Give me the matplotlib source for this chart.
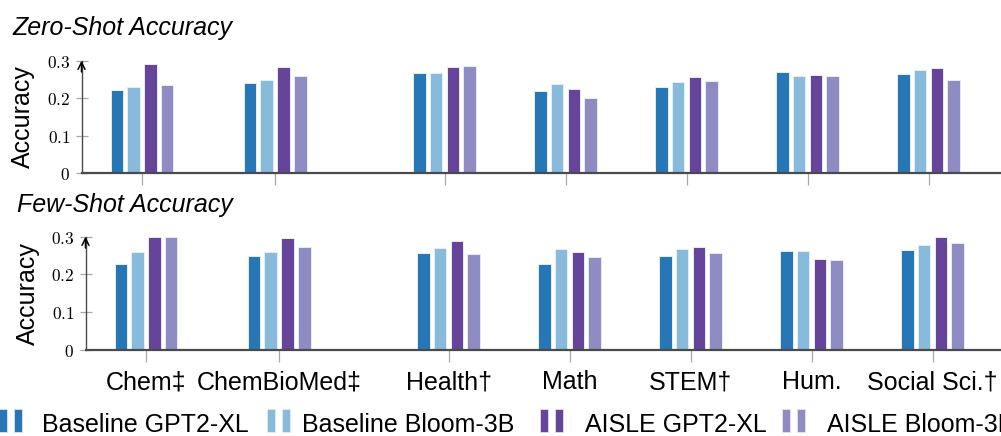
import matplotlib
matplotlib.use('Agg')
import matplotlib.pyplot as plt
from matplotlib.patches import Rectangle
import numpy as np

# ---------------- data ----------------
categories = ['Chem‡', 'ChemBioMed‡', 'Health†', 'Math', 'STEM†', 'Hum.', 'Social Sci.†']
series_names = ['Baseline GPT2-XL', 'Baseline Bloom-3B', 'AISLE GPT2-XL', 'AISLE Bloom-3B']

zero_baseline_gpt2 = [0.223, 0.241, 0.268, 0.218, 0.230, 0.271, 0.265]
zero_baseline_bloom = [0.230, 0.249, 0.267, 0.238, 0.244, 0.259, 0.275]
zero_aisle_gpt2 = [0.290, 0.282, 0.284, 0.225, 0.256, 0.263, 0.280]
zero_aisle_bloom = [0.234, 0.258, 0.287, 0.201, 0.247, 0.259, 0.249]

few_baseline_gpt2 = [0.228, 0.248, 0.257, 0.228, 0.248, 0.261, 0.266]
few_baseline_bloom = [0.259, 0.259, 0.269, 0.268, 0.267, 0.261, 0.277]
few_aisle_gpt2 = [0.300, 0.296, 0.289, 0.259, 0.272, 0.242, 0.300]
few_aisle_bloom = [0.300, 0.274, 0.254, 0.247, 0.256, 0.237, 0.284]

y_ticks = [0, 0.1, 0.2, 0.3]
y_tick_labels = ['$0$', '$0.1$', '$0.2$', '$0.3$']

# ---------------- style / layout ----------------
colors = ['#2776b5', '#88bbdb', '#654499', '#8e8cc2']
group_pos = np.array([0, 1.1, 2.5, 3.5, 4.5, 5.5, 6.5])
bar_pitch = 0.139
bar_width = 0.103
unit_px = 121.0

plt.rcParams['mathtext.fontset'] = 'cm'
SANS = 'Liberation Sans'

W, H = 1001, 436
fig = plt.figure(figsize=(W / 100, H / 100), dpi=100)


def fx(px):
    return px / W


def fy(py):
    return (H - py) / H


def make_axes(left, top, bottom, right):
    ax = fig.add_axes([fx(left), fy(bottom), fx(right - left), (bottom - top) / H])
    ax.set_xlim(-0.5, -0.5 + (right - left) / unit_px)
    ax.set_ylim(0, 0.3)
    return ax


def draw_panel(ax, series, show_labels):
    for i, vals in enumerate(series):
        ax.bar(group_pos + (i - 1.5) * bar_pitch, vals, width=bar_width,
               color=colors[i], edgecolor='#e6edf5', linewidth=0.7, zorder=3)
    for s in ['top', 'right']:
        ax.spines[s].set_visible(False)
    ax.spines['left'].set_color('#4a4a4a')
    ax.spines['left'].set_linewidth(1.0)
    ax.spines['bottom'].set_color('#4a4a4a')
    ax.spines['bottom'].set_linewidth(1.6)
    ax.spines['bottom'].set_zorder(5)
    ax.set_yticks(y_ticks)
    ax.set_yticklabels(y_tick_labels, fontsize=12.5)
    ax.set_xticks(group_pos)
    if show_labels:
        ax.set_xticklabels(categories, fontsize=18, fontfamily=SANS)
    else:
        ax.set_xticklabels([])
    ax.tick_params(axis='x', direction='out', length=8.5, width=0.9, color='#a8a8a8', pad=6)
    ax.tick_params(axis='y', direction='inout', length=8, width=0.9, color='#a8a8a8', pad=4)
    ax.annotate('', xy=(0, 1.0), xytext=(0, 0.9), xycoords='axes fraction',
                arrowprops=dict(arrowstyle='->,head_length=0.5,head_width=0.25',
                                color='black', lw=1.1, shrinkA=0, shrinkB=0),
                annotation_clip=False, zorder=6)
    ax.set_ylabel('Accuracy', fontsize=18, fontfamily=SANS)


ax_top = make_axes(81.5, 60.7, 173.3, 1012)
draw_panel(ax_top, [zero_baseline_gpt2, zero_baseline_bloom, zero_aisle_gpt2, zero_aisle_bloom], False)
ax_top.yaxis.set_label_coords((35 - 81.5) / (1012 - 81.5), 0.5)

ax_bot = make_axes(85.5, 236.7, 350, 1016)
draw_panel(ax_bot, [few_baseline_gpt2, few_baseline_bloom, few_aisle_gpt2, few_aisle_bloom], True)
ax_bot.yaxis.set_label_coords((40 - 85.5) / (1016 - 85.5), 0.5)

# titles
fig.text(fx(12), fy(35), 'Zero-Shot Accuracy', fontsize=18, fontfamily=SANS,
         style='italic', va='baseline', ha='left')
fig.text(fx(17), fy(212), 'Few-Shot Accuracy', fontsize=18, fontfamily=SANS,
         style='italic', va='baseline', ha='left')

# legend (drawn manually: two small bars + label)
legend_text_x = [41.7, 302, 585, 827]
legend_bar_x = [-1, 267, 540, 782]
for i, name in enumerate(series_names):
    bx = legend_bar_x[i]
    for dx in (0, 15):
        fig.patches.append(Rectangle((fx(bx + dx), fy(432)), 8 / W, 23 / H,
                                     transform=fig.transFigure, facecolor=colors[i],
                                     edgecolor='#e6edf5', linewidth=0.5))
    fig.text(fx(legend_text_x[i]), fy(432), name, fontsize=18, fontfamily=SANS,
             va='baseline', ha='left')

fig.savefig('out.png', dpi=100)
